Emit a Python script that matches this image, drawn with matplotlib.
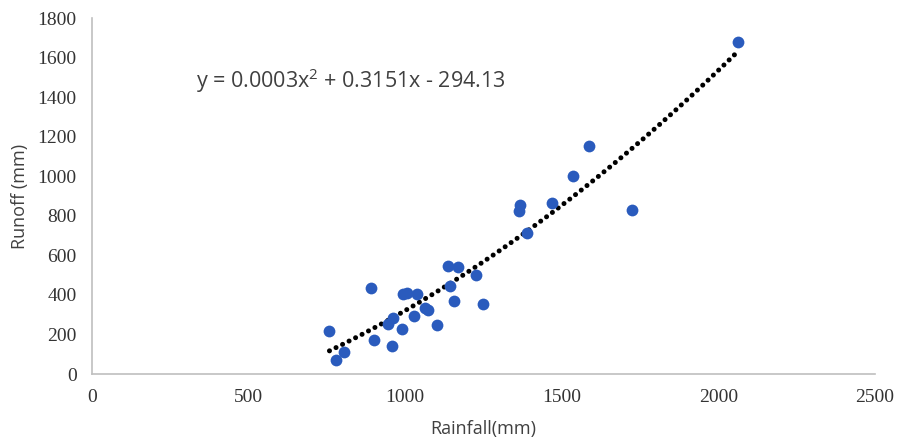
import numpy as np
import matplotlib
matplotlib.use("Agg")
import matplotlib.pyplot as plt

# rainfall vs runoff (mm)
rainfall = [758, 780, 803, 892, 901, 946, 962, 959, 990, 994, 1006, 1038,
            1029, 1062, 1072, 1102, 1137, 1169, 1143, 1156, 1226, 1248,
            1586, 1535, 1468, 1366, 1363, 1389, 1723, 2061]
runoff = [218, 71, 112, 437, 173, 254, 284, 142, 228, 406, 411, 406,
          294, 335, 325, 249, 548, 543, 447, 371, 502, 355,
          1152, 1000, 863, 853, 822, 711, 827, 1680]

# polynomial trendline (order 2) as shown on the chart
coef = [0.0003, 0.3151, -294.13]
eq_label = r"y = 0.0003x$^{2}$ + 0.3151x - 294.13"

x_ticks = [0, 500, 1000, 1500, 2000, 2500]
y_ticks = [0, 200, 400, 600, 800, 1000, 1200, 1400, 1600, 1800]

plt.rcParams["mathtext.fontset"] = "custom"
plt.rcParams["mathtext.rm"] = "Open Sans"

fig = plt.figure(figsize=(8.97, 4.40), dpi=100)
ax = fig.add_axes([0.1026, 0.15, 0.873, 0.809])

ax.scatter(rainfall, runoff, s=72, color="#2a5bbd", zorder=3, linewidths=0)

xs = np.linspace(min(rainfall), max(rainfall), 300)
ax.plot(xs, np.polyval(coef, xs), color="black", linestyle=(0, (0.01, 1.45)),
        linewidth=3.6, zorder=2, dash_capstyle="round")

ax.text(331, 1481, eq_label, fontsize=15.5, color="#404040", va="center",
        family="Open Sans")

ax.set_xlim(0, 2500)
ax.set_ylim(0, 1800)
ax.set_xticks(x_ticks)
ax.set_yticks(y_ticks)
for lab in ax.get_xticklabels() + ax.get_yticklabels():
    lab.set_family("Liberation Serif")
    lab.set_fontsize(14)
    lab.set_color("#333333")
ax.tick_params(length=0, pad=11)

for s in ["top", "right"]:
    ax.spines[s].set_visible(False)
for s in ["left", "bottom"]:
    ax.spines[s].set_color("#bfbfbf")
    ax.spines[s].set_linewidth(1.2)

ax.set_xlabel("Rainfall(mm)", fontsize=13, color="#404040", family="Open Sans", labelpad=10)
ax.set_ylabel("Runoff (mm)", fontsize=13, color="#404040", family="Open Sans", labelpad=6)

fig.savefig("out.png", dpi=100)
